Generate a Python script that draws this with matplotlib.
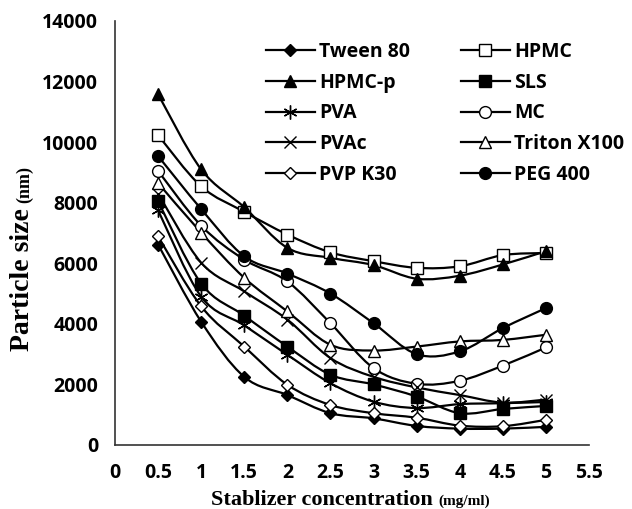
import matplotlib
matplotlib.use("Agg")
import matplotlib.pyplot as plt
from matplotlib.path import Path
from matplotlib.patches import PathPatch
from matplotlib.lines import Line2D
import numpy as np

conc = [0.5, 1, 1.5, 2, 2.5, 3, 3.5, 4, 4.5, 5]

names = ["Tween 80", "HPMC", "HPMC-p", "SLS", "PVA", "MC",
         "PVAc", "Triton X100", "PVP K30", "PEG 400"]

tween80 = [6620, 4070, 2250, 1650, 1050, 880, 630, 540, 540, 600]
hpmc = [10230, 8540, 7700, 6950, 6360, 6070, 5850, 5900, 6270, 6340]
hpmc_p = [11580, 9100, 7850, 6510, 6180, 5940, 5490, 5590, 5960, 6400]
sls = [8050, 5330, 4270, 3250, 2320, 2000, 1600, 1050, 1190, 1290]
pva = [7750, 4900, 3950, 2980, 2040, 1430, 1220, 1350, 1380, 1420]
mc = [9050, 7240, 6120, 5400, 4020, 2540, 2020, 2120, 2620, 3220]
pvac = [8300, 6020, 5070, 4140, 2870, 2250, 1900, 1650, 1400, 1500]
triton = [8650, 7010, 5520, 4410, 3310, 3120, 3250, 3420, 3470, 3640]
pvp_k30 = [6890, 4580, 3250, 1990, 1320, 1050, 900, 640, 620, 830]
peg400 = [9540, 7790, 6230, 5660, 5000, 4020, 3000, 3090, 3860, 4520]

series = [tween80, hpmc, hpmc_p, sls, pva, mc, pvac, triton, pvp_k30, peg400]

# marker, filled, size
styles = [
    ("D", True, 6.5),
    ("s", False, 8),
    ("^", True, 8.5),
    ("s", True, 8),
    ((6, 2, 0), False, 10),
    ("o", False, 8.5),
    ("x", False, 9),
    ("^", False, 8.5),
    ("D", False, 6.5),
    ("o", True, 8.5),
]


def smooth_path(xs, ys):
    # catmull-rom style bezier through the points, like excel smoothed lines
    pts = np.column_stack([xs, ys]).astype(float)
    n = len(pts)
    verts = [pts[0]]
    codes = [Path.MOVETO]
    for i in range(n - 1):
        p0 = pts[i - 1] if i > 0 else pts[i]
        p1 = pts[i]
        p2 = pts[i + 1]
        p3 = pts[i + 2] if i + 2 < n else pts[i + 1]
        c1 = p1 + (p2 - p0) / 6.0
        c2 = p2 - (p3 - p1) / 6.0
        verts += [c1, c2, p2]
        codes += [Path.CURVE4] * 3
    return Path(verts, codes)


fig = plt.figure(figsize=(6.32, 5.09), dpi=100)
ax = fig.add_axes([115 / 632, 1 - 445 / 509, (589 - 115) / 632, (445 - 21) / 509])

lw = 1.6
handles = []
for vals, (mk, filled, ms), name in zip(series, styles, names):
    ax.add_patch(PathPatch(smooth_path(conc, vals), fill=False, edgecolor="black", lw=lw, zorder=2))
    fc = "black" if filled else "white"
    ax.plot(conc, vals, linestyle="none", marker=mk, ms=ms, mfc=fc, mec="black",
            mew=1.0, zorder=3)
    handles.append(Line2D([], [], color="black", lw=lw, marker=mk, ms=ms, mfc=fc,
                          mec="black", mew=1.0, label=name))

ax.set_xlim(0, 5.5)
ax.set_ylim(0, 14000)
ax.set_xticks(np.arange(0, 5.51, 0.5))
ax.set_xticklabels(["0", "0.5", "1", "1.5", "2", "2.5", "3", "3.5", "4", "4.5", "5", "5.5"])
ax.set_yticks(range(0, 14001, 2000))
for s in ["top", "right"]:
    ax.spines[s].set_visible(False)
for s in ["left", "bottom"]:
    ax.spines[s].set_color("#333333")
    ax.spines[s].set_linewidth(1.2)
ax.tick_params(axis="x", length=0, pad=13)
ax.tick_params(axis="y", length=0, pad=12)
for lab in ax.get_xticklabels() + ax.get_yticklabels():
    lab.set_fontfamily("Open Sans")
    lab.set_fontweight("bold")
    lab.set_fontsize(14)

# legend is filled row by row in the reference
order = [0, 2, 4, 6, 8, 1, 3, 5, 7, 9]
leg = ax.legend(handles=[handles[i] for i in order], ncol=2, loc="upper left", frameon=False,
                bbox_to_anchor=(266 / 632, 1 - 42 / 509), bbox_transform=fig.transFigure,
                prop={"family": "Open Sans", "weight": "bold", "size": 14},
                handlelength=2.5, handletextpad=0.25, columnspacing=2.6,
                labelspacing=0.55, borderpad=0, borderaxespad=0)

# axis titles: big serif words followed by a smaller unit
fig.canvas.draw()
r = fig.canvas.get_renderer()

xt = fig.text(211 / 632, 1 - 505 / 509, "Stablizer concentration", family="Liberation Serif",
              weight="bold", size=16, va="baseline", ha="left")
bb = xt.get_window_extent(r)
fig.text(bb.x1 / 632 + 6 / 632, 1 - 505 / 509, "(mg/ml)", family="Liberation Serif",
         weight="bold", size=11, va="baseline", ha="left")

yt = fig.text(29 / 632, 1 - 351 / 509, "Particle size", family="Liberation Serif",
              weight="bold", size=20, va="baseline", ha="left", rotation=90,
              rotation_mode="anchor")
bb = yt.get_window_extent(r)
fig.text(29 / 632, bb.y1 / 509 + 5 / 509, "(nm)", family="Liberation Serif",
         weight="bold", size=13, va="baseline", ha="left", rotation=90,
         rotation_mode="anchor")

fig.savefig("out.png", dpi=100)
